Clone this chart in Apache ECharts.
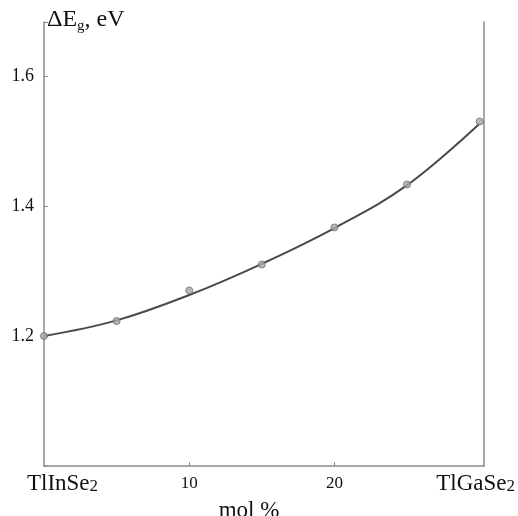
<!DOCTYPE html>
<html>
<head>
<meta charset="utf-8">
<script src="https://cdn.jsdelivr.net/npm/echarts@6/dist/echarts.min.js"></script>
<style>
  html, body { margin: 0; padding: 0; background: #fff; }
  #chart { width: 518px; height: 516px; }
</style>
</head>
<body>
<div id="chart"></div>
<script>
// composition, mol % TlGaSe2
var molPct = [0, 5, 10, 15, 20, 25, 30];
// measured points
var gapPoints = [1.200, 1.223, 1.270, 1.310, 1.367, 1.433, 1.530];
// drawn fit curve through the same compositions
var gapCurve = [1.200, 1.224, 1.263, 1.311, 1.366, 1.432, 1.527];
var xTickLabels = { 0: 'TlInSe', 10: '10', 20: '20', 30: 'TlGaSe' };
var yTickLabels = ['1.2', '1.4', '1.6'];

var axisGray = '#8a8a8a';
var serif = '"Liberation Serif", "DejaVu Serif", serif';

var chart = echarts.init(document.getElementById('chart'), null, {renderer: 'canvas'});

chart.setOption({
  animation: false,
  grid: { left: 44, right: 34, top: 22, bottom: 50, containLabel: false, outerBoundsMode: 'none' },
  xAxis: {
    type: 'value',
    min: 0, max: 30.3, interval: 10,
    name: 'mol %',
    nameLocation: 'middle',
    nameGap: 26,
    nameTextStyle: { fontFamily: serif, fontSize: 23, color: '#111', padding: [0, 30, 0, 0] },
    axisLine: { lineStyle: { color: axisGray, width: 1.5 } },
    axisTick: { inside: true, length: 4, customValues: [10, 20], lineStyle: { color: axisGray } },
    splitLine: { show: false },
    axisLabel: {
      margin: 6,
      fontFamily: serif,
      color: '#111',
      customValues: [0, 10, 20, 30],
      formatter: function (v) {
        if (v === 0) return '{padL|}{big|' + xTickLabels[0] + '}{sub|2}';
        if (v === 30) return '{big|' + xTickLabels[30] + '}{sub|2}{padR|}';
        return '{small|' + xTickLabels[v] + '}';
      },
      rich: {
        big: { fontFamily: serif, fontSize: 23, color: '#111' },
        sub: { fontFamily: serif, fontSize: 17, color: '#111', padding: [6, 0, 0, 0] },
        small: { fontFamily: serif, fontSize: 17, color: '#111', padding: [3, 0, 0, 0] },
        padL: { width: 37 },
        padR: { width: 8 }
      }
    }
  },
  yAxis: [{
    type: 'value',
    min: 1.0, max: 1.683, interval: 0.2,
    name: '{d|ΔE}{s|g}{d|, eV}',
    nameLocation: 'end',
    nameGap: 2,
    nameTextStyle: {
      align: 'left',
      verticalAlign: 'middle',
      padding: [0, 0, 0, 3],
      rich: {
        d: { fontFamily: serif, fontSize: 24, color: '#111' },
        s: { fontFamily: serif, fontSize: 15, color: '#111', padding: [12, 0, 0, 0] }
      }
    },
    axisLine: { show: true, lineStyle: { color: axisGray, width: 1.5 } },
    axisTick: { show: true, inside: true, length: 4, lineStyle: { color: axisGray } },
    splitLine: { show: false },
    axisLabel: {
      margin: 10,
      fontFamily: serif,
      fontSize: 18,
      color: '#111',
      formatter: function (v) {
        var s = v.toFixed(1);
        return yTickLabels.indexOf(s) >= 0 ? s : '';
      }
    }
  }, {
    type: 'value',
    position: 'right',
    min: 1.0, max: 1.683,
    axisLine: { show: true, lineStyle: { color: axisGray, width: 1.5 } },
    axisTick: { show: false },
    axisLabel: { show: false },
    splitLine: { show: false }
  }],
  series: [{
    type: 'line',
    smooth: 0.4,
    showSymbol: false,
    data: molPct.map(function (x, i) { return [x, gapCurve[i]]; }),
    lineStyle: { color: '#4a4a4a', width: 2 },
    z: 2
  }, {
    type: 'scatter',
    symbolSize: 7,
    data: molPct.map(function (x, i) { return [x, gapPoints[i]]; }),
    itemStyle: { color: '#a8a8a8', borderColor: '#6e6e6e', borderWidth: 1 },
    z: 3
  }]
});
</script>
</body>
</html>
